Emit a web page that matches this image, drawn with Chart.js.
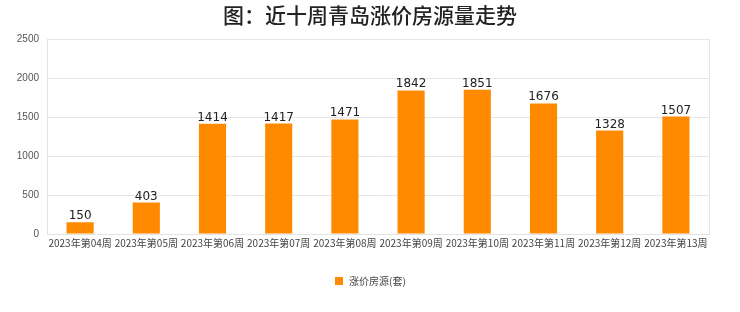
<!DOCTYPE html>
<html><head><meta charset="utf-8">
<script src="https://cdn.jsdelivr.net/npm/chart.js@4/dist/chart.umd.min.js"></script>
<style>html,body{margin:0;padding:0;background:#fff}#wrap{width:740px;height:312px}</style>
</head><body><div id="wrap"><canvas id="c" width="740" height="312"></canvas></div>
<script>
const categories = ["2023年第04周","2023年第05周","2023年第06周","2023年第07周","2023年第08周","2023年第09周","2023年第10周","2023年第11周","2023年第12周","2023年第13周"];
const values = [150,403,1414,1417,1471,1842,1851,1676,1328,1507];
const seriesName = "涨价房源(套)";
const titleText = "图：近十周青岛涨价房源量走势";
const yTicks = [0,500,1000,1500,2000,2500];

const barColor = '#ff8a00';
const titleFont = '500 21px "Noto Sans CJK SC", sans-serif';
const labelPlugin = {
  id: 'labels',
  afterDatasetsDraw(chart) {
    const ctx = chart.ctx;
    const meta = chart.getDatasetMeta(0);
    ctx.save();
    ctx.font = '12px "DejaVu Sans", sans-serif';
    ctx.fillStyle = '#222';
    ctx.textAlign = 'center';
    ctx.textBaseline = 'alphabetic';
    meta.data.forEach((el, i) => {
      ctx.fillText(String(values[i]), el.x, el.y - 3);
    });
    // title centred on the full canvas
    ctx.font = titleFont;
    ctx.textBaseline = 'middle';
    ctx.fillText(titleText, chart.width / 2, 15);
    // legend centred on the full canvas
    ctx.font = '10px "Noto Sans CJK SC", sans-serif';
    const name = chart.data.datasets[0].label;
    const tw = ctx.measureText(name).width;
    const total = 8 + 6 + tw;
    const x0 = Math.round(chart.width / 2 - total / 2);
    const cy = 281;
    ctx.fillStyle = chart.data.datasets[0].backgroundColor;
    ctx.fillRect(x0, cy - 4, 8, 8);
    ctx.fillStyle = '#444';
    ctx.textAlign = 'left';
    ctx.fillText(name, x0 + 14, cy);
    ctx.restore();
  }
};
const borderPlugin = {
  id: 'rborder',
  beforeDatasetsDraw(chart) {
    const a = chart.chartArea, ctx = chart.ctx;
    ctx.save();
    ctx.strokeStyle = '#e3e3e3';
    ctx.lineWidth = 1;
    ctx.beginPath();
    ctx.moveTo(Math.round(a.right) + 0.5, a.top);
    ctx.lineTo(Math.round(a.right) + 0.5, a.bottom);
    ctx.stroke();
    ctx.restore();
  }
};

new Chart(document.getElementById('c'), {
  type: 'bar',
  data: {
    labels: categories,
    datasets: [{
      label: seriesName,
      data: values,
      backgroundColor: barColor,
      barPercentage: 0.41,
      categoryPercentage: 1.0
    }]
  },
  options: {
    responsive: false,
    animation: false,
    devicePixelRatio: 1,
    layout: { padding: { left: 0, right: 31, top: 0, bottom: 47 } },
    plugins: {
      title: {
        display: true,
        text: titleText,
        font: { size: 21, weight: '500', family: '"Noto Sans CJK SC", sans-serif' },
        color: 'rgba(0,0,0,0)',
        padding: { top: 2, bottom: 12 }
      },
      legend: { display: false },
      tooltip: { enabled: false }
    },
    scales: {
      x: {
        afterFit(scale) { scale.height = 31; },
        grid: { display: false, drawTicks: false },
        border: { display: true, color: '#e3e3e3' },
        ticks: {
          color: '#444',
          font: { size: 10, family: '"Noto Sans CJK SC", sans-serif' },
          maxRotation: 0, autoSkip: false, padding: 3
        }
      },
      y: {
        min: 0, max: 2500,
        afterBuildTicks(scale) { scale.ticks = yTicks.map(v => ({ value: v })); },
        afterFit(scale) { scale.width = 47; },
        grid: { color: '#e6e6e6', drawTicks: false },
        border: { display: true, color: '#e3e3e3' },
        ticks: {
          color: '#555',
          font: { size: 10, family: '"Liberation Sans", sans-serif' },
          padding: 8,
          callback: (v) => String(v)
        }
      }
    }
  },
  plugins: [labelPlugin, borderPlugin]
});
</script></body></html>
